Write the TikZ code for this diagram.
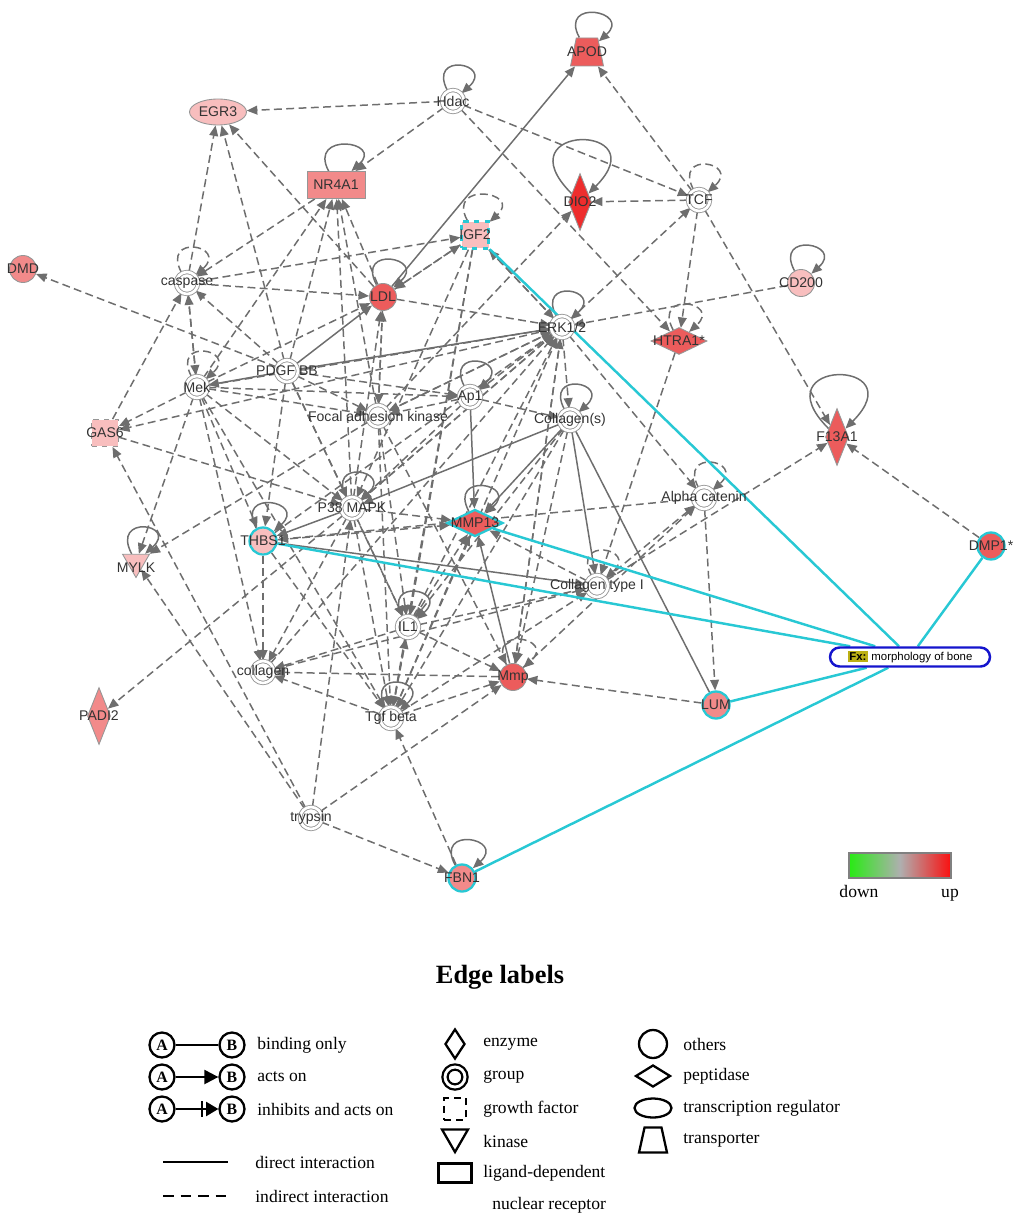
\documentclass[tikz,border=0pt]{standalone}
\usepackage{fontspec}
\setmainfont{Liberation Serif}
\newfontfamily\netfont{Liberation Sans}
\usetikzlibrary{arrows.meta,shapes.geometric,backgrounds}
\tikzset{>={Triangle[length=6pt,width=5pt]}}
\definecolor{edgegray}{RGB}{110,110,110}
\definecolor{nodegray}{RGB}{150,150,150}
\definecolor{upA}{RGB}{238,45,45}
\definecolor{upB}{RGB}{236,92,92}
\definecolor{upC}{RGB}{242,138,138}
\definecolor{upD}{RGB}{248,190,190}
\definecolor{fxcyan}{RGB}{40,200,212}
\definecolor{fxblue}{RGB}{20,20,205}
\definecolor{fxolive}{RGB}{188,176,20}
\definecolor{barG}{RGB}{40,235,20}
\definecolor{barM}{RGB}{175,175,175}
\definecolor{barR}{RGB}{250,15,15}

\begin{document}
\begin{tikzpicture}[x=0.02cm,y=-0.02cm,
    every label/.style={font=\netfont\fontsize{8}{9}\selectfont, text=black!80, inner sep=0pt},
    mol/.style={draw=nodegray, line width=0.5pt, inner sep=0pt},
    grp/.style={mol, circle, fill=white, double, double distance=1.5pt, minimum size=0.44cm},
    other/.style={mol, circle, minimum size=0.54cm},
    enzyme/.style={mol, diamond, minimum width=0.46cm, minimum height=1.14cm},
    peptidase/.style={mol, diamond, minimum width=1.12cm, minimum height=0.54cm},
    growth/.style={mol, rectangle, dashed, minimum size=0.54cm},
    ligand/.style={mol, rectangle, minimum width=1.16cm, minimum height=0.54cm},
    tfac/.style={mol, ellipse, minimum width=1.14cm, minimum height=0.52cm},
    trans/.style={mol, trapezium, trapezium stretches=true, inner sep=2pt, trapezium left angle=75, trapezium right angle=75, minimum width=0.66cm, minimum height=0.56cm},
    kinase/.style={mol, regular polygon, regular polygon sides=3, shape border rotate=180, minimum size=0.62cm},
    hl/.style={draw=fxcyan, line width=1.3pt},
    dir/.style={draw=edgegray, line width=0.85pt, ->},
    indir/.style={dir, dash pattern=on 4.5pt off 2.5pt},
    bind/.style={draw=edgegray, line width=0.85pt},
    selfloop/.style={out=118, in=42, looseness=1, min distance=0.9cm},
    bigloop/.style={out=135, in=45, looseness=1, min distance=2cm},
    fxlink/.style={draw=fxcyan, line width=1.4pt},
    leg/.style={font=\fontsize{10}{12}\selectfont, anchor=west, inner sep=0pt},
    legshape/.style={draw=black, line width=1.3pt, inner sep=0pt},
    legab/.style={legshape, circle, minimum size=0.5cm, font=\bfseries\fontsize{9}{10}\selectfont}]
\useasboundingbox (0,0) rectangle (1024,1226);

% molecules
\node[trans, fill=upB, label=center:APOD] (apod) at (587,52) {};
\node[tfac, fill=upD, label=center:EGR3] (egr) at (218,112) {};
\node[grp, label=center:Hdac] (hdac) at (453,101) {};
\node[ligand, fill=upC, label=center:NR4A1] (nr) at (336,185) {};
\node[enzyme, fill=upA, label=center:DIO2] (dio) at (580,202) {};
\node[grp, label=center:TCF] (tcf) at (699,200) {};
\node[growth, fill=upD, hl, dashed, label=center:IGF2] (igf) at (475,235) {};
\node[other, fill=upC, label=center:DMD] (dmd) at (23,269) {};
\node[grp, label=center:caspase] (caspase) at (187,283) {};
\node[other, fill=upB, label=center:LDL] (ldl) at (383,297) {};
\node[other, fill=upD, label=center:CD200] (cd) at (801,283) {};
\node[grp, label=center:ERK1/2] (erk) at (562,327) {};
\node[peptidase, fill=upB, label=center:HTRA1*] (htra) at (679,341) {};
\node[grp, label=center:Mek] (mek) at (197,387) {};
\node[grp, label=center:PDGF BB] (pdgf) at (287,371) {};
\node[grp, label=center:Ap1] (ap1) at (470,397) {};
\node[grp, label=center:Focal adhesion kinase] (fak) at (378,416) {};
\node[grp, label=center:Collagen(s)] (col) at (570,420) {};
\node[growth, fill=upD, label=center:GAS6] (gas) at (105,433) {};
\node[enzyme, fill=upB, label=center:F13A1] (f13) at (837,437) {};
\node[grp, label=center:Alpha catenin] (alpha) at (704,498) {};
\node[grp, label=center:P38 MAPK] (p38) at (352,508) {};
\node[peptidase, fill=upB, hl, label=center:MMP13] (mmp13) at (475,523) {};
\node[other, fill=upD, hl, label=center:THBS1] (thbs) at (263,541) {};
\node[kinase, fill=upD, label={[yshift=-3pt]center:MYLK}] (mylk) at (136,562) {};
\node[other, fill=upB, hl, label=center:DMP1*] (dmp) at (991,546) {};
\node[grp, label=center:Collagen type I] (colI) at (597,586) {};
\node[grp, label=center:IL1] (il) at (408,627) {};
\node[grp, label=center:collagen] (collagen) at (263,672) {};
\node[other, fill=upB, label=center:Mmp] (mmp) at (513,677) {};
\node[other, fill=upC, hl, label=center:LUM] (lum) at (716,705) {};
\node[enzyme, fill=upC, label=center:PADI2] (padi) at (99,716) {};
\node[grp, label=center:Tgf beta] (tgf) at (391,718) {};
\node[grp, label=center:trypsin] (trypsin) at (311,818) {};
\node[other, fill=upC, hl, label=center:FBN1] (fbn) at (462,878) {};
\node[draw=fxblue, line width=1.4pt, rounded corners=0.19cm, fill=white,
      minimum width=3.2cm, minimum height=0.38cm, inner sep=1pt,
      font=\netfont\fontsize{6.5}{7}\selectfont] (fx) at (910,657)
      {{\setlength{\fboxsep}{1pt}\colorbox{fxolive}{\bfseries Fx:}}\ morphology of bone};

\begin{scope}[on background layer]
  % indirect interactions
  \foreach \a/\b in {hdac/egr, hdac/nr, hdac/tcf, hdac/htra, tcf/apod, tcf/dio, tcf/htra, tcf/f13,
      erk/tcf, fak/dio, cd/erk, igf/erk, erk/igf, ldl/igf, igf/ldl, caspase/igf, nr/caspase,
      caspase/ldl, caspase/egr, pdgf/egr, ldl/egr, mek/nr, pdgf/nr, p38/nr, ldl/nr, fak/nr,
      pdgf/dmd, gas/caspase, mek/gas, erk/gas, gas/p38, trypsin/gas, mek/mylk, fak/mylk,
      trypsin/mylk, p38/padi, trypsin/mmp, trypsin/fbn, trypsin/p38, fbn/tgf, lum/mmp,
      alpha/lum, erk/alpha, mmp/alpha, colI/f13, htra/colI, dmp/f13, colI/alpha, erk/col,
      ap1/col, thbs/collagen, thbs/tgf, mek/thbs, pdgf/thbs, caspase/mek, mek/caspase,
      tgf/mmp, tgf/collagen, il/mmp, il/collagen, mmp/collagen, il/tgf, tgf/il, p38/tgf,
      p38/il, fak/tgf, fak/il, ldl/fak, fak/ldl, pdgf/fak, mek/fak, pdgf/ap1, mek/ap1,
      erk/ap1, erk/fak, erk/p38, ap1/p38, ap1/fak, igf/il, igf/tgf, igf/p38, il/erk,
      tgf/erk, ldl/erk, thbs/erk, collagen/erk, mmp/erk, mek/ldl, p38/ldl, mek/erk,
      mek/p38, mek/tgf, pdgf/p38, pdgf/il, pdgf/caspase, fak/mmp, erk/mmp, col/mmp,
      colI/mmp13, p38/mmp13, il/mmp13, tgf/mmp13, thbs/mmp13, collagen/colI, tgf/colI,
      il/colI, col/il, col/tgf, p38/erk, fak/erk, p38/collagen, mek/collagen, alpha/thbs}
    \draw[indir] (\a) -- (\b);
  % direct interactions
  \foreach \a/\b in {ldl/apod, pdgf/erk, pdgf/mek, pdgf/ldl, p38/thbs, thbs/colI,
      ap1/mmp13, mmp/mmp13, col/mmp13, col/colI, col/p38}
    \draw[dir] (\a) -- (\b);
  \draw[bind] (col) -- (lum);
  % loops
  \foreach \n in {apod, hdac, nr, ldl, cd, erk, ap1, col, p38, mmp13, thbs, mylk, il, tgf, fbn}
    \draw[dir] (\n) to[selfloop] (\n);
  \foreach \n in {tcf, igf, caspase, htra, mek, alpha, colI, mmp}
    \draw[indir] (\n) to[selfloop] (\n);
  \draw[dir] (dio) to[bigloop] (dio);
  \draw[dir] (f13) to[bigloop] (f13);
  % links to the function node
  \foreach \n in {igf, mmp13, thbs, lum, fbn, dmp}
    \draw[fxlink] (\n) -- (fx);
\end{scope}

% expression scale
\shade[left color=barG, right color=barR, middle color=barM, draw=gray, line width=1pt] (849,853) rectangle (951,878);
\node[font=\fontsize{10}{12}\selectfont, anchor=base] (down) at (859,897) {down};
\node[font=\fontsize{10}{12}\selectfont, anchor=base] (up) at (950,897) {up};

% legend
\node[font=\bfseries\fontsize{15}{18}\selectfont] (title) at (500,977) {Edge labels};

\node[legab] (a1) at (162,1045) {A};
\node[legab] (b1) at (232,1045) {B};
\draw[line width=1.3pt] (a1) -- (b1);
\node[leg] (t1) at (257,1045) {binding only};
\node[legab] (a2) at (162,1077) {A};
\node[legab] (b2) at (232,1077) {B};
\draw[line width=1.3pt, -{Triangle[length=8pt,width=8pt]}] (a2) -- (b2);
\node[leg] (t2) at (257,1077) {acts on};
\node[legab] (a3) at (162,1109) {A};
\node[legab] (b3) at (232,1109) {B};
\draw[line width=1.3pt, -{Bar[width=9pt,sep=1.5pt]Triangle[length=7pt,width=8pt]}] (a3) -- (b3);
\node[leg] (t3) at (257,1109) {inhibits and acts on};

\coordinate (d1) at (163,1162);
\coordinate (d2) at (228,1162);
\draw[line width=1.3pt] (d1) -- (d2);
\node[leg] (t4) at (255,1162) {direct interaction};
\coordinate (e1) at (163,1196);
\coordinate (e2) at (228,1196);
\draw[line width=1.3pt, dash pattern=on 6pt off 4pt] (e1) -- (e2);
\node[leg] (t5) at (255,1196) {indirect interaction};

\node[legshape, diamond, minimum width=0.4cm, minimum height=0.6cm] (s1) at (455,1044) {};
\node[leg] at (483,1044) {enzyme};
\node[legshape, circle, double, double distance=1.6pt, minimum size=0.4cm] (s2) at (455,1077) {};
\node[leg] at (483,1077) {group};
\node[legshape, dash pattern=on 4pt off 3pt, minimum size=0.44cm] (s3) at (455,1109) {};
\node[leg] at (483,1109) {growth factor};
\node[legshape, regular polygon, regular polygon sides=3, shape border rotate=180, minimum size=0.6cm] (s4) at (455,1137) {};
\node[leg] at (483,1141) {kinase};
\node[legshape, rectangle, minimum width=0.66cm, minimum height=0.38cm] (s5) at (455,1173) {};
\node[leg] at (483,1173) {ligand-dependent};
\node[leg] at (492,1205) {nuclear receptor};

\node[legshape, circle, minimum size=0.56cm] (s6) at (653,1044) {};
\node[leg] at (683,1044) {others};
\node[legshape, diamond, minimum width=0.7cm, minimum height=0.44cm] (s7) at (653,1076) {};
\node[leg] at (683,1076) {peptidase};
\node[legshape, ellipse, minimum width=0.74cm, minimum height=0.38cm] (s8) at (653,1108) {};
\node[leg] at (683,1108) {transcription regulator};
\node[legshape, trapezium, trapezium stretches=true, inner sep=2pt, trapezium left angle=72, trapezium right angle=72, minimum width=0.56cm, minimum height=0.5cm] (s9) at (653,1140) {};
\node[leg] at (683,1140) {transporter};
\end{tikzpicture}
\end{document}
